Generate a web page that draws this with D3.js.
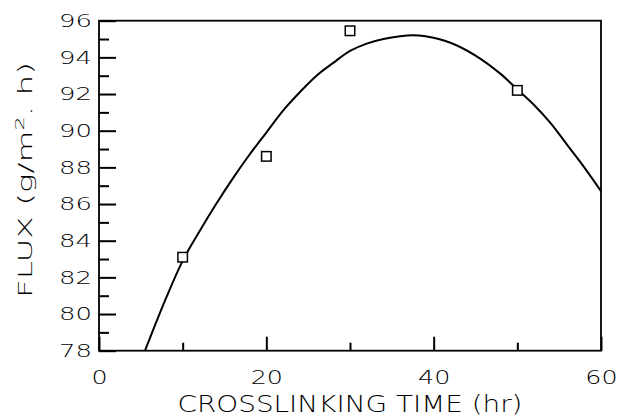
<!DOCTYPE html>
<html>
<head>
<meta charset="utf-8">
<script src="https://cdn.jsdelivr.net/npm/d3@7"></script>
<style>
  body { margin: 0; background: #fff; }
  text { font-family: "DejaVu Sans", "Liberation Sans", sans-serif; font-weight: 200; fill: #000; }
</style>
</head>
<body>
<div id="chart"></div>
<script>
// measured points (squares)
const pointTime = [10, 20, 30, 50];
const pointFlux = [83.1, 88.6, 95.45, 92.2];

// fitted curve
const curveTime = [5.5, 8, 10, 12, 14, 16, 18, 20, 22, 24, 26, 28, 30, 32, 34, 36, 37.5, 39, 42, 45, 48, 50, 52, 54, 56, 58, 60];
const curveFlux = [78.0, 80.85, 82.9, 84.5, 86.0, 87.4, 88.7, 89.9, 91.1, 92.1, 93.0, 93.7, 94.35, 94.75, 95.0, 95.15, 95.2, 95.15, 94.8, 94.1, 93.1, 92.25, 91.4, 90.4, 89.2, 88.0, 86.7];

// tick values
const xMajorTicks = [0, 20, 40, 60];
const xMinorTicks = [10, 30, 50];
const yMajorTicks = [78, 80, 82, 84, 86, 88, 90, 92, 94, 96];
const yMinorTicks = [79, 81, 83, 85, 87, 89, 91, 93, 95];

const width = 617;
const height = 417;
const margin = { top: 20.7, right: 16, bottom: 66.3, left: 99 };

const svg = d3.select('#chart')
  .append('svg')
  .attr('width', width)
  .attr('height', height);

const xScale = d3.scaleLinear()
  .domain([0, 60])
  .range([margin.left, width - margin.right]);

const yScale = d3.scaleLinear()
  .domain([78, 96])
  .range([height - margin.bottom, margin.top]);

const bottom = height - margin.bottom;

// minor ticks (inward, no labels)
svg.append('g')
  .attr('transform', `translate(0, ${bottom})`)
  .call(d3.axisBottom(xScale).tickValues(xMinorTicks).tickSize(-8).tickFormat(''))
  .call((g) => g.select('.domain').remove());

svg.append('g')
  .attr('transform', `translate(${margin.left}, 0)`)
  .call(d3.axisLeft(yScale).tickValues(yMinorTicks).tickSize(-10).tickFormat(''))
  .call((g) => g.select('.domain').remove());

// major ticks with labels
const xAxis = svg.append('g')
  .attr('transform', `translate(0, ${bottom})`)
  .call(d3.axisBottom(xScale).tickValues(xMajorTicks).tickSize(-14).tickPadding(19))
  .call((g) => g.select('.domain').remove());

const yAxis = svg.append('g')
  .attr('transform', `translate(${margin.left}, 0)`)
  .call(d3.axisLeft(yScale).tickValues(yMajorTicks).tickSize(-17))
  .call((g) => g.select('.domain').remove());

svg.selectAll('.tick line')
  .attr('stroke', '#000')
  .attr('stroke-width', 2);

xAxis.selectAll('text')
  .attr('font-size', 19.5)
  .attr('transform', 'scale(1.3,1)');

yAxis.selectAll('text')
  .attr('font-size', 18.5)
  .attr('x', -7 / 1.4)
  .attr('transform', 'scale(1.4,1)');

// frame
svg.append('rect')
  .attr('x', margin.left)
  .attr('y', margin.top)
  .attr('width', width - margin.left - margin.right)
  .attr('height', bottom - margin.top)
  .attr('fill', 'none')
  .attr('stroke', '#000')
  .attr('stroke-width', 1.8);

// curve
const curveData = curveTime.map((t, i) => ({ t, f: curveFlux[i] }));
const line = d3.line()
  .x((d) => xScale(d.t))
  .y((d) => yScale(d.f))
  .curve(d3.curveCatmullRom);

svg.append('path')
  .datum(curveData)
  .attr('d', line)
  .attr('fill', 'none')
  .attr('stroke', '#000')
  .attr('stroke-width', 2);

// squares
const pointData = pointTime.map((t, i) => ({ t, f: pointFlux[i] }));
const sq = 9.5;
svg.append('g')
  .selectAll('rect')
  .data(pointData)
  .join('rect')
  .attr('x', (d) => xScale(d.t) - sq / 2)
  .attr('y', (d) => yScale(d.f) - sq / 2)
  .attr('width', sq)
  .attr('height', sq)
  .attr('fill', '#fff')
  .attr('stroke', '#000')
  .attr('stroke-width', 1.5);

// axis titles
svg.append('text')
  .attr('x', (margin.left + width - margin.right) / 2)
  .attr('y', 411.5)
  .attr('text-anchor', 'middle')
  .attr('font-size', 23)
  .attr('textLength', 345)
  .attr('lengthAdjust', 'spacingAndGlyphs')
  .text('CROSSLINKING TIME (hr)');

const yTitle = svg.append('text')
  .attr('transform', 'translate(32, 298) rotate(-90)')
  .attr('font-size', 19)
  .attr('textLength', 236)
  .attr('lengthAdjust', 'spacingAndGlyphs');
yTitle.append('tspan').text('FLUX (g/m');
yTitle.append('tspan').attr('font-size', 13).attr('dy', -8).text('2');
yTitle.append('tspan').attr('dy', 8).text('. h)');
</script>
</body>
</html>
